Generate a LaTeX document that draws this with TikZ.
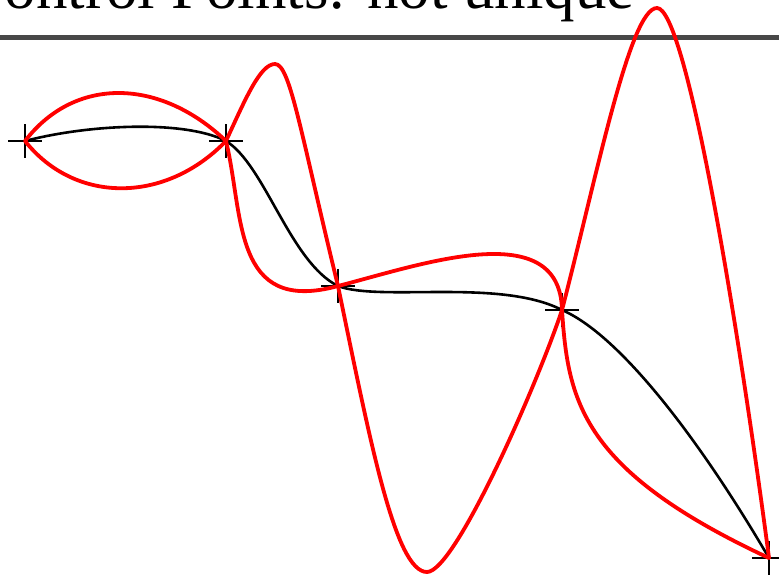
\documentclass[tikz,border=0pt]{standalone}
\usepackage{fontspec}
\setmainfont{Liberation Serif}
\usepackage{xcolor}
\usepackage{tikz}
\usetikzlibrary{shapes.misc}

\definecolor{rulegray}{HTML}{484848}

\begin{document}
\begin{tikzpicture}[
    x=1pt, y=-1pt,
    heading/.style={font=\fontsize{63}{70}\selectfont, inner sep=0pt, anchor=base east},
    ctrlpt/.style={draw, cross out, rotate=45, minimum size=22.6pt, inner sep=0pt, line width=1.3pt},
    base/.style={black, line width=2.6pt, line cap=round},
    alt/.style={red, line width=3.8pt, line cap=round, line join=round}
  ]
  \useasboundingbox (0,0) rectangle (779,574);

  % title and rule
  \node[heading] (title) at (635,8) {ontrol Points: not unique};
  \draw[rulegray, line width=5pt] (0,37) -- (779,37);

  % control points
  \foreach \n/\x/\y in {0/25/141, 1/226/141, 2/338/286, 3/562/310, 4/769/558}
    \node[ctrlpt] (p\n) at (\x,\y) {};

  % smooth curve
  \draw[base] (p0.center) .. controls (90,124) and (185,120) .. (p1.center)
    .. controls (265,165) and (290,262) .. (p2.center)
    .. controls (380,302) and (500,278) .. (p3.center)
    .. controls (620,335) and (700,440) .. (p4.center);

  % other curves through the same points
  \draw[alt] (p0.center) .. controls (75,76) and (160,78) .. (p1.center)
    .. controls (244,215) and (232,315) .. (p2.center)
    .. controls (420,265) and (560,215) .. (p3.center)
    .. controls (568,400) and (580,470) .. (p4.center);
  \draw[alt] (p0.center) .. controls (75,204) and (165,204) .. (p1.center)
    .. controls (245,100) and (260,64) .. (275,64)
    .. controls (290,64) and (300,130) .. (p2.center)
    .. controls (370,440) and (395,572) .. (427,572)
    .. controls (455,572) and (537,385) .. (p3.center)
    .. controls (597,175) and (630,8) .. (657,8)
    .. controls (685,8) and (735,300) .. (p4.center);
\end{tikzpicture}
\end{document}
